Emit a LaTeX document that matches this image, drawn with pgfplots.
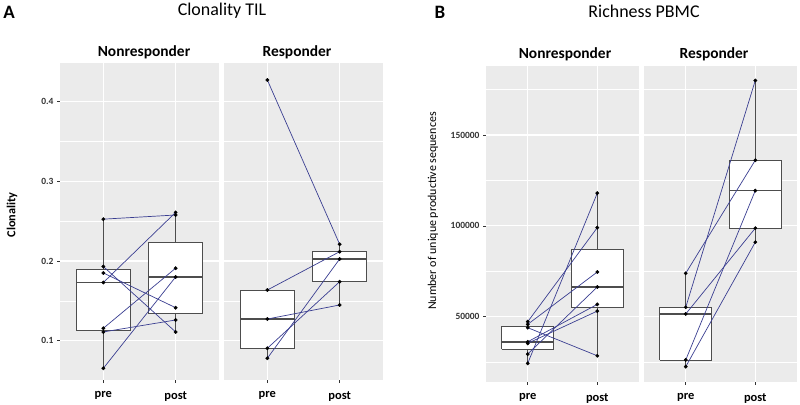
\documentclass[border=0pt]{standalone}
\usepackage{fontspec}
\setmainfont{Carlito}
\usepackage{pgfplots}
\pgfplotsset{compat=1.18}
\definecolor{panelbg}{HTML}{EBEBEB}
\definecolor{boxc}{HTML}{4D4D4D}
\definecolor{pairc}{RGB}{58,62,145}
\definecolor{tickc}{HTML}{333333}
\pgfplotsset{
  facet/.style={
    scale only axis, anchor=south west,
    xmin=0.4, xmax=2.6, xtick={1,2}, xticklabels={pre,post},
    axis background/.style={fill=panelbg},
    axis line style={draw=none},
    grid=both,
    major grid style={white, line width=1.1pt},
    minor grid style={white, line width=0.55pt},
    tick align=outside, xtick pos=bottom, ytick pos=left,
    major tick length=3bp, minor tick length=0pt,
    tick style={tickc, line width=0.5pt},
    xticklabel style={font=\bfseries\fontsize{12.5}{13}\selectfont, text=black, yshift=-5bp},
    yticklabel style={font=\bfseries\fontsize{9.5}{10}\selectfont, text=tickc},
  },
  clon/.style={ymin=0.0507, ymax=0.4484, ytick={0.1,0.2,0.3,0.4},
    minor ytick={0.15,0.25,0.35}, width=159bp, height=317bp},
  % richness values are given in thousands of sequences
  rich/.style={ymin=14.227, ymax=187.975, ytick={50,100,150},
    minor ytick={25,75,125,175}, width=153bp, height=315.7bp},
  noy/.style={yticklabels={}, ytick style={draw=none}},
  bxl/.style={boxc, line width=0.7pt},
  pair/.style={pairc, line width=0.7pt},
  dots/.style={only marks, mark=*, mark size=1.7bp, mark options={fill=black, draw=black}},
}
% box: position, left, right, lower whisker, lower quartile, median, upper quartile, upper whisker
\newcommand{\bx}[8]{%
  \addplot[bxl] coordinates {(#1,#4) (#1,#5)};
  \addplot[bxl] coordinates {(#1,#7) (#1,#8)};
  \addplot[bxl, fill=white, line join=miter] coordinates {(#2,#5) (#3,#5) (#3,#7) (#2,#7) (#2,#5)};
  \addplot[boxc, line width=1.5pt] coordinates {(#2,#6) (#3,#6)};
}
\begin{document}
\begin{tikzpicture}
\path[use as bounding box] (0,0) rectangle (800bp,405bp);

% ---------- A: Clonality TIL, Nonresponder
\begin{axis}[facet, clon, at={(60bp,25bp)}, yticklabels={0.1,0.2,0.3,0.4}]
\bx{1}{0.625}{1.375}{0.0654}{0.1125}{0.173}{0.189}{0.2525}
\bx{2}{1.625}{2.375}{0.111}{0.134}{0.180}{0.2235}{0.261}
\addplot[pair] coordinates {(1,0.2525) (2,0.2577)};
\addplot[pair] coordinates {(1,0.173) (2,0.261)};
\addplot[pair] coordinates {(1,0.193) (2,0.111)};
\addplot[pair] coordinates {(1,0.185) (2,0.1414)};
\addplot[pair] coordinates {(1,0.1156) (2,0.191)};
\addplot[pair] coordinates {(1,0.111) (2,0.126)};
\addplot[pair] coordinates {(1,0.0654) (2,0.180)};
\addplot[dots] coordinates {(1,0.2525) (1,0.193) (1,0.185) (1,0.173) (1,0.1156) (1,0.111) (1,0.0654)
  (2,0.261) (2,0.2577) (2,0.191) (2,0.180) (2,0.1414) (2,0.126) (2,0.111)};
\end{axis}

% ---------- A: Clonality TIL, Responder
\begin{axis}[facet, clon, noy, at={(224bp,25bp)}]
\bx{1}{0.625}{1.375}{0.078}{0.0905}{0.1272}{0.1636}{0.1636}
\bx{2}{1.625}{2.375}{0.1448}{0.174}{0.2025}{0.2117}{0.221}
\addplot[pair] coordinates {(1,0.427) (2,0.221)};
\addplot[pair] coordinates {(1,0.1636) (2,0.2117)};
\addplot[pair] coordinates {(1,0.1272) (2,0.1448)};
\addplot[pair] coordinates {(1,0.0905) (2,0.174)};
\addplot[pair] coordinates {(1,0.078) (2,0.2025)};
\addplot[dots] coordinates {(1,0.427) (1,0.1636) (1,0.1272) (1,0.0905) (1,0.078)
  (2,0.221) (2,0.2117) (2,0.2025) (2,0.174) (2,0.1448)};
\end{axis}

% ---------- B: Richness PBMC, Nonresponder (thousands)
\begin{axis}[facet, rich, at={(486bp,23.3bp)}, yticklabels={50000,100000,150000}]
\bx{1}{0.625}{1.375}{24.35}{32.3}{36.2}{44.5}{47.25}
\bx{2}{1.625}{2.375}{28.5}{55.0}{66.35}{86.8}{118.0}
\addplot[pair] coordinates {(1,47.25) (2,99.0)};
\addplot[pair] coordinates {(1,45.8) (2,74.6)};
\addplot[pair] coordinates {(1,43.95) (2,28.5)};
\addplot[pair] coordinates {(1,36.2) (2,56.8)};
\addplot[pair] coordinates {(1,35.35) (2,53.1)};
\addplot[pair] coordinates {(1,29.45) (2,66.35)};
\addplot[pair] coordinates {(1,24.35) (2,118.0)};
\addplot[dots] coordinates {(1,47.25) (1,45.8) (1,43.95) (1,36.2) (1,35.35) (1,29.45) (1,24.35)
  (2,118.0) (2,99.0) (2,74.6) (2,66.35) (2,56.8) (2,53.1) (2,28.5)};
\end{axis}

% ---------- B: Richness PBMC, Responder (thousands)
\begin{axis}[facet, rich, noy, at={(644bp,23.3bp)}]
\bx{1}{0.625}{1.375}{22.5}{26.2}{51.5}{55.2}{73.9}
\bx{2}{1.625}{2.375}{91.0}{98.7}{119.4}{136.1}{180.0}
\addplot[pair] coordinates {(1,73.9) (2,136.1)};
\addplot[pair] coordinates {(1,55.2) (2,180.0)};
\addplot[pair] coordinates {(1,51.5) (2,98.7)};
\addplot[pair] coordinates {(1,26.2) (2,119.4)};
\addplot[pair] coordinates {(1,22.5) (2,91.0)};
\addplot[dots] coordinates {(1,73.9) (1,55.2) (1,51.5) (1,26.2) (1,22.5)
  (2,180.0) (2,136.1) (2,119.4) (2,98.7) (2,91.0)};
\end{axis}

% titles and labels
\node[font=\bfseries\fontsize{19}{20}\selectfont] at (9bp,393bp) {A};
\node[font=\fontsize{18}{20}\selectfont] at (222bp,394bp) {Clonality TIL};
\node[font=\bfseries\fontsize{15.5}{16}\selectfont] at (144bp,352.5bp) {Nonresponder};
\node[font=\bfseries\fontsize{15.5}{16}\selectfont] at (297bp,352.5bp) {Responder};
\node[rotate=90, font=\bfseries\fontsize{12.3}{13}\selectfont] at (12bp,190bp) {Clonality};

\node[font=\bfseries\fontsize{19}{20}\selectfont] at (440bp,393bp) {B};
\node[font=\fontsize{18}{20}\selectfont] at (644bp,394bp) {Richness PBMC};
\node[font=\bfseries\fontsize{15.5}{16}\selectfont] at (565bp,351bp) {Nonresponder};
\node[font=\bfseries\fontsize{15.5}{16}\selectfont] at (714bp,351bp) {Responder};
\node[rotate=90, font=\fontsize{12}{13}\selectfont] at (433bp,194bp) {Number of unique productive sequences};
\end{tikzpicture}
\end{document}
